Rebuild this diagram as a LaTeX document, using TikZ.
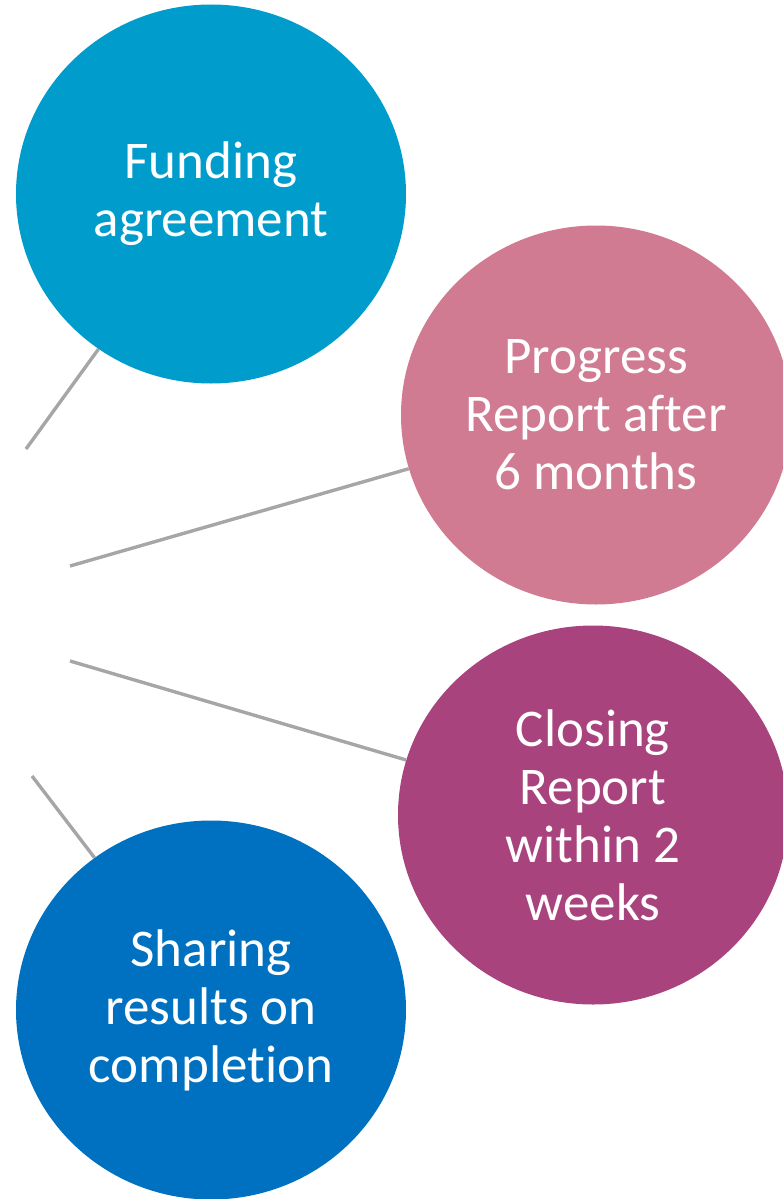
\documentclass[tikz,border=0pt]{standalone}
\usepackage{fontspec}
\setmainfont[Ligatures={NoCommon}]{Carlito}
\usetikzlibrary{shapes.geometric}
\definecolor{cblue}{RGB}{0,156,204}
\definecolor{cpink}{RGB}{209,123,147}
\definecolor{cplum}{RGB}{168,67,126}
\definecolor{cdeep}{RGB}{0,113,192}
\definecolor{cgray}{RGB}{166,166,166}
\tikzset{
  bubble/.style={ellipse, minimum width=390pt, minimum height=379pt, inner sep=0pt,
    draw=none, text=white, align=center, font=\fontsize{53}{58}\selectfont},
  conn/.style={draw=cgray, line width=3.4pt}
}
\begin{document}
\begin{tikzpicture}[x=1pt,y=-1pt]
\useasboundingbox (0,0) rectangle (782,1199);
\node[bubble, fill=cblue] (c1) at (211,194) {Funding\\agreement};
\node[bubble, fill=cpink] (c2) at (596,415) {Progress\\Report after\\6 months};
\node[bubble, fill=cplum] (c3) at (593,815) {Closing\\Report\\within 2\\weeks};
\node[bubble, fill=cdeep] (c4) at (211,1010) {Sharing\\results on\\completion};
\coordinate (p1) at (26,449);
\coordinate (p2) at (70,566);
\coordinate (p3) at (70,661);
\coordinate (p4) at (32,776);
\draw[conn] (p1) -- (c1);
\draw[conn] (p2) -- (c2);
\draw[conn] (p3) -- (c3);
\draw[conn] (p4) -- (c4);
\end{tikzpicture}
\end{document}
